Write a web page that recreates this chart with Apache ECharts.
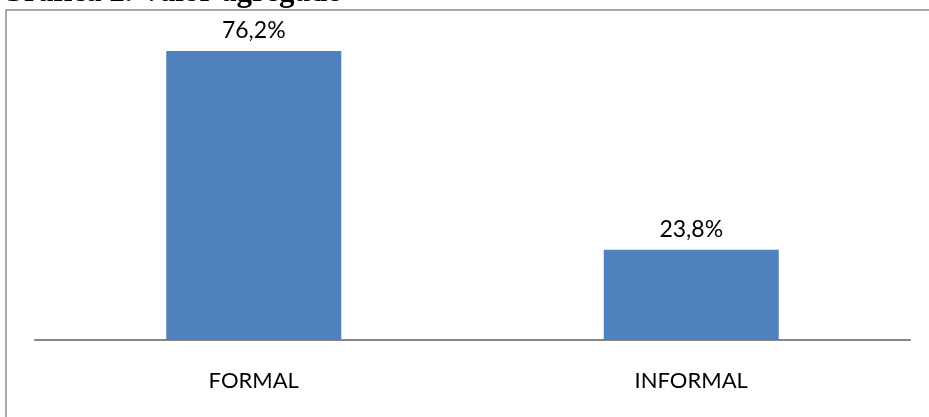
<!DOCTYPE html>
<html><head><meta charset="utf-8">
<script src="https://cdn.jsdelivr.net/npm/echarts@6/dist/echarts.min.js"></script>
<style>html,body{margin:0;padding:0;background:#fff;}#c{width:929px;height:417px;}</style>
</head><body><div id="c"></div>
<script>
const categories = ['FORMAL', 'INFORMAL'];
const values = [76.2, 23.8];
const titleText = 'Gráfica 2. Valor agregado';

const chart = echarts.init(document.getElementById('c'), null, {renderer: 'canvas'});
chart.setOption({
  animation: false,
  backgroundColor: '#fff',
  graphic: [
    {type: 'rect', shape: {x: 6, y: 10, width: 1200, height: 1000}, style: {fill: 'none', stroke: '#8c8c8c', lineWidth: 1.5}, z: 0},
    {type: 'text', x: 0, y: 8, style: {text: titleText, font: 'bold 31px "Liberation Serif"', fill: '#000', verticalAlign: 'bottom'}, z: 10}
  ],
  grid: {left: 35, right: 19, top: 36.6, bottom: 77, containLabel: false},
  xAxis: {
    type: 'category', data: categories,
    axisLine: {lineStyle: {color: '#868686', width: 2}},
    axisTick: {show: false},
    axisLabel: {color: '#000', fontFamily: 'Lato', fontSize: 22, margin: 30}
  },
  yAxis: {type: 'value', min: 0, max: 80, show: false, splitLine: {show: false}},
  series: [{
    type: 'bar', data: values, barWidth: 175,
    itemStyle: {color: '#4F81BD'},
    label: {show: true, position: 'top', distance: 9, color: '#000', fontFamily: 'Lato', fontSize: 23,
      formatter: p => p.value.toFixed(1).replace('.', ',') + '%'}
  }]
});
</script></body></html>
